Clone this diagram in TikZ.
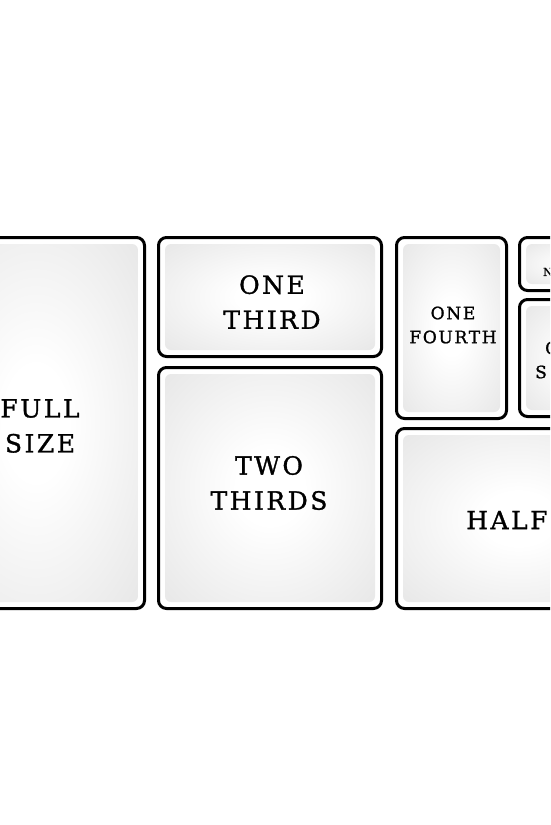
\documentclass[tikz,border=0pt]{standalone}
\usepackage{fontspec}
\newfontfamily\tilefont[LetterSpace=10,FakeBold=1.2]{DejaVu Serif}
\usetikzlibrary{positioning}
\pgfdeclareradialshading{panelglow}{\pgfpoint{0bp}{0bp}}{color(0bp)=(white); color(8bp)=(white); color(50bp)=(black!14)}

\begin{document}
\begin{tikzpicture}[
    x=1pt, y=-1pt, line join=round,
    tileframe/.style ={draw=black, line width=3pt, rounded corners=8pt, fill=white},
    tilepanel/.style ={rounded corners=6pt, shading=panelglow},
    biglab/.style    ={font=\tilefont\fontsize{25}{35}\selectfont, align=center, inner sep=0pt},
    midlab/.style    ={font=\tilefont\fontsize{17}{24}\selectfont, align=center, inner sep=0pt},
    tinylab/.style   ={font=\tilefont\fontsize{11}{14}\selectfont, inner sep=0pt}
]
\useasboundingbox (0,0) rectangle (550,825);
\clip (0,0) rectangle (550,825);

% full size (left, runs off the page)
\draw[tileframe] (-73,237.5) rectangle (144.5,608.5);
\shade[tilepanel] (-66.5,244) rectangle (138,602);
\node[biglab] (full) at (40,426) {FULL\\SIZE};

% one third / two thirds (middle column)
\draw[tileframe] (158.5,237.5) rectangle (381.5,356.5);
\shade[tilepanel] (165,244) rectangle (375,350);
\node[biglab] (third) at (272,302) {ONE\\THIRD};

\draw[tileframe] (158.5,367.5) rectangle (381.5,608.5);
\shade[tilepanel] (165,374) rectangle (375,602);
\node[biglab] (twothirds) at (269,483) {TWO\\THIRDS};

% one fourth
\draw[tileframe] (396.5,237.5) rectangle (506.5,418.5);
\shade[tilepanel] (403,244) rectangle (500,412);
\node[midlab] (fourth) at (453,325) {ONE\\FOURTH};

% small tiles at the right edge
\draw[tileframe] (519.5,237.5) rectangle (640,290.5);
\shade[tilepanel] (526,244) rectangle (634,284);
\node[tinylab, anchor=west] (smalla) at (543,272) {N};

\draw[tileframe] (519.5,299.5) rectangle (640,416.5);
\shade[tilepanel] (526,306) rectangle (634,410);
\node[midlab, anchor=west] (smallb) at (545,348) {O};
\node[midlab, anchor=west] (smallc) at (535,372) {S};

% half
\draw[tileframe] (396.5,428.5) rectangle (640,608.5);
\shade[tilepanel] (403,435) rectangle (634,602);
\node[biglab, anchor=west] (half) at (466,520) {HALF};
\end{tikzpicture}
\end{document}
